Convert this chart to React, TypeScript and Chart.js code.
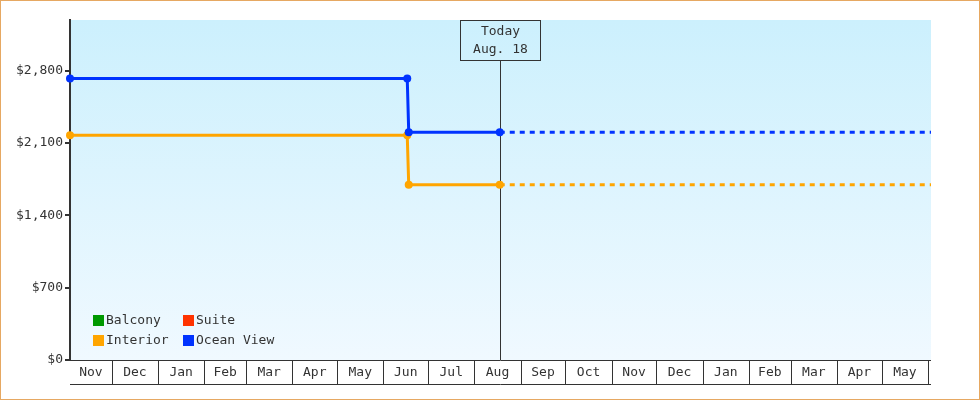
import { useEffect, useRef } from 'react'
import { Chart, registerables } from 'chart.js'

Chart.register(...registerables)

const SERIES_DATES = ['2024-11-03', '2025-06-17', '2025-06-18', '2025-08-18', '2026-06-03']
const INTERIOR_PRICES = [2175, 2175, 1695, 1695, 1695]
const OCEAN_VIEW_PRICES = [2725, 2725, 2205, 2205, 2205]
const BALCONY_PRICES: number[] = []
const SUITE_PRICES: number[] = []
const Y_TICKS = [0, 700, 1400, 2100, 2800]
const Y_MAX = 3290
const TODAY_DATE = '2025-08-18'
const TODAY_LABEL = ['Today', 'Aug. 18']
const MONTH_NAMES = ['Jan', 'Feb', 'Mar', 'Apr', 'May', 'Jun', 'Jul', 'Aug', 'Sep', 'Oct', 'Nov', 'Dec']
const LEGEND_ITEMS = ['Balcony', 'Suite', 'Interior', 'Ocean View']

const FONT = 'DejaVu Sans Mono'
const INK = '#333333'

const ts = (d: string) => Date.parse(d + 'T00:00:00Z')
const todayIndex = SERIES_DATES.indexOf(TODAY_DATE)
const toPoints = (vals: number[]) => vals.map((y, i) => ({ x: ts(SERIES_DATES[i]), y }))

const framePlugin = {
  id: 'frame',
  beforeDraw(chart: any) {
    const { ctx, width, height, chartArea: a } = chart
    ctx.save()
    ctx.fillStyle = '#ffffff'
    ctx.fillRect(0, 0, width, height)
    ctx.strokeStyle = '#e6a862'
    ctx.lineWidth = 1
    ctx.strokeRect(0.5, 0.5, width - 1, height - 1)
    const g = ctx.createLinearGradient(0, a.top, 0, a.bottom)
    g.addColorStop(0, '#ccf0fd')
    g.addColorStop(1, '#f0f9ff')
    ctx.fillStyle = g
    ctx.fillRect(a.left, a.top, a.right - a.left, a.bottom - a.top)
    ctx.restore()
  },
  beforeDatasetsDraw(chart: any) {
    const { ctx, chartArea: a, scales } = chart
    const cx = Math.round(scales.x.getPixelForValue(ts(TODAY_DATE))) + 0.5
    ctx.save()
    ctx.strokeStyle = INK
    ctx.lineWidth = 1
    // today box + line
    ctx.strokeRect(cx - 40, a.top + 0.5, 80, 40)
    ctx.beginPath()
    ctx.moveTo(cx, a.top + 40.5)
    ctx.lineTo(cx, a.bottom)
    ctx.stroke()
    ctx.fillStyle = INK
    ctx.font = `13px ${FONT}`
    ctx.textAlign = 'center'
    ctx.textBaseline = 'middle'
    ctx.fillText(TODAY_LABEL[0], cx, a.top + 12)
    ctx.fillText(TODAY_LABEL[1], cx, a.top + 30)
    ctx.restore()
  },
  afterDraw(chart: any) {
    const { ctx, chartArea: a, scales } = chart
    const xs = scales.x
    const boxH = 25
    ctx.save()
    ctx.strokeStyle = INK
    ctx.lineWidth = 1
    ctx.beginPath()
    ctx.moveTo(a.left, a.bottom + 0.5)
    ctx.lineTo(a.right, a.bottom + 0.5)
    ctx.moveTo(a.left, a.bottom + boxH - 0.5)
    ctx.lineTo(a.right, a.bottom + boxH - 0.5)
    ctx.stroke()

    ctx.font = `13px ${FONT}`
    ctx.fillStyle = INK
    ctx.textAlign = 'center'
    ctx.textBaseline = 'middle'
    const start = new Date(xs.min)
    let y = start.getUTCFullYear()
    let m = start.getUTCMonth()
    while (Date.UTC(y, m, 1) < xs.max) {
      const ny = m === 11 ? y + 1 : y
      const nm = (m + 1) % 12
      const x0 = Math.max(a.left, xs.getPixelForValue(Date.UTC(y, m, 1)))
      const nextPx = xs.getPixelForValue(Date.UTC(ny, nm, 1))
      const x1 = Math.min(a.right, nextPx)
      if (nextPx < a.right) {
        const sx = Math.round(nextPx) + 0.5
        ctx.beginPath()
        ctx.moveTo(sx, a.bottom)
        ctx.lineTo(sx, a.bottom + boxH)
        ctx.stroke()
      }
      if (x1 - x0 > 20) ctx.fillText(MONTH_NAMES[m], (x0 + x1) / 2, a.bottom + 13)
      y = ny
      m = nm
    }

    // legend, two columns inside the plot
    const ds = chart.data.datasets
    LEGEND_ITEMS.forEach((name, i) => {
      const d = ds.find((s: any) => s.label === name)
      const lx = a.left + 23 + (i % 2) * 90
      const ly = a.bottom - 45 + Math.floor(i / 2) * 20
      ctx.fillStyle = d.borderColor
      ctx.fillRect(lx, ly, 11, 11)
      ctx.fillStyle = INK
      ctx.textAlign = 'left'
      ctx.fillText(name, lx + 13, ly + 6)
    })
    ctx.restore()
  },
}

export default function App() {
  const canvasRef = useRef<HTMLCanvasElement>(null)
  const chartRef = useRef<Chart | null>(null)

  useEffect(() => {
    if (!canvasRef.current) return
    if (chartRef.current) chartRef.current.destroy()

    const lineStyle = (color: string) => ({
      borderColor: color,
      backgroundColor: color,
      borderWidth: 3,
      tension: 0,
      fill: false,
      clip: false as const,
      pointRadius: (c: any) => (c.dataIndex < SERIES_DATES.length - 1 ? 4 : 0),
      pointHoverRadius: 4,
      pointBorderWidth: 0,
      segment: {
        borderDash: (c: any) => (c.p0DataIndex >= todayIndex ? [5, 5] : undefined),
      },
    })

    chartRef.current = new Chart(canvasRef.current, {
      type: 'line',
      data: {
        datasets: [
          { label: 'Balcony', data: toPoints(BALCONY_PRICES), ...lineStyle('#009900'), order: 3 },
          { label: 'Suite', data: toPoints(SUITE_PRICES), ...lineStyle('#ff3300'), order: 2 },
          { label: 'Interior', data: toPoints(INTERIOR_PRICES), ...lineStyle('#ffa500'), order: 1 },
          { label: 'Ocean View', data: toPoints(OCEAN_VIEW_PRICES), ...lineStyle('#0033ff'), order: 0 },
        ],
      },
      options: {
        animation: false,
        responsive: false,
        devicePixelRatio: 1,
        layout: { padding: { top: 20, right: 49, bottom: 40, left: 0 } },
        plugins: {
          legend: { display: false },
          tooltip: { enabled: false },
        },
        scales: {
          x: {
            type: 'linear',
            display: false,
            min: ts(SERIES_DATES[0]),
            max: ts(SERIES_DATES[SERIES_DATES.length - 1]),
          },
          y: {
            min: 0,
            max: Y_MAX,
            afterFit: (s: any) => {
              s.width = 70
            },
            afterBuildTicks: (s: any) => {
              s.ticks = Y_TICKS.map((v) => ({ value: v }))
            },
            border: { color: INK, width: 2 },
            grid: {
              drawOnChartArea: false,
              color: INK,
              lineWidth: 2,
              tickLength: 5,
            },
            ticks: {
              font: { family: FONT, size: 13 },
              color: INK,
              padding: 2,
              callback: (v: any) => '$' + Number(v).toLocaleString('en-US'),
            },
          },
        },
      },
      plugins: [framePlugin],
    })

    return () => {
      if (chartRef.current) {
        chartRef.current.destroy()
        chartRef.current = null
      }
    }
  }, [])

  return (
    <div style={{ position: 'absolute', left: 0, top: 0, width: 980, height: 400 }}>
      <canvas ref={canvasRef} width={980} height={400} style={{ display: 'block' }} />
    </div>
  )
}
